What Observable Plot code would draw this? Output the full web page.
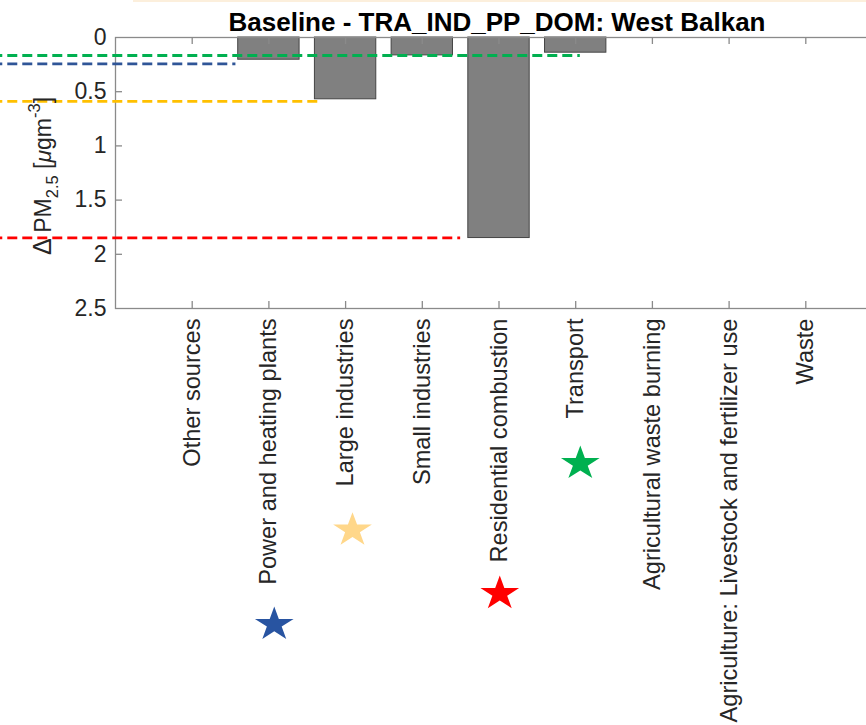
<!DOCTYPE html>
<html>
<head>
<meta charset="utf-8">
<script src="https://cdn.jsdelivr.net/npm/d3@7"></script>
<script src="https://cdn.jsdelivr.net/npm/@observablehq/plot@0.6"></script>
<style>
  body { margin: 0; background: #fff; overflow: hidden; }
  #wrap { position: relative; width: 866px; height: 725px; overflow: hidden; }
  #strip { position: absolute; left: 133px; top: 0; width: 733px; height: 2px; background: #fcefdc; }
</style>
</head>
<body>
<div id="wrap"><div id="strip"></div></div>
<script>
// ---- data ----
const title = "Baseline - TRA_IND_PP_DOM: West Balkan";
const categories = [
  "Other sources",
  "Power and heating plants",
  "Large industries",
  "Small industries",
  "Residential combustion",
  "Transport",
  "Agricultural waste burning",
  "Agriculture: Livestock and fertilizer use",
  "Waste"
];
const deltaPM = [0, 0.205, 0.57, 0.165, 1.85, 0.14, 0, 0, 0];
const yTicks = [0, 0.5, 1, 1.5, 2, 2.5];

// dashed reference levels (drawn from the left edge to the marked bar)
const refSource = ["Transport", "Power and heating plants", "Large industries", "Residential combustion"];
const refLevel = [0.166, 0.243, 0.59, 1.848];
const refEnd = [6.06, 1.57, 2.65, 4.5];

// star markers below the category labels (x in category units, y in axis units)
const starSource = ["Power and heating plants", "Large industries", "Residential combustion", "Transport"];
const starX = [2.07, 3.09, 5.01, 6.06];
const starDepth = [5.415, 4.545, 5.13, 3.93];

// ---- styles ----
const lineColor = {
  "Transport": "#00b050",
  "Power and heating plants": "#2f5597",
  "Large industries": "#ffc000",
  "Residential combustion": "#ff0000"
};
const starColor = {
  "Transport": "#00b050",
  "Power and heating plants": "#2854a1",
  "Large industries": "#ffd78a",
  "Residential combustion": "#ff0000"
};
const axisGray = "#8a8a8a";
const textDark = "#262626";

// ---- tables built from the arrays ----
const positions = categories.map((c, i) => i + 1);
const bars = categories.map((c, i) => ({pos: i + 1, cat: c, value: deltaPM[i]}));
const refs = refSource.map((s, i) => ({source: s, level: refLevel[i], end: refEnd[i]}));
const stars = starSource.map((s, i) => ({source: s, x: starX[i], depth: starDepth[i]}));

// slightly widened 5-point star
const wideStar = {
  draw(ctx, size) {
    const R = Math.sqrt(size / Math.PI);
    const kx = 1.13, inner = 0.382;
    for (let i = 0; i < 10; i++) {
      const a = -Math.PI / 2 + i * Math.PI / 5;
      const r = i % 2 ? R * inner : R;
      const px = Math.cos(a) * r * kx, py = Math.sin(a) * r;
      if (i === 0) ctx.moveTo(px, py); else ctx.lineTo(px, py);
    }
    ctx.closePath();
  }
};

const plot = Plot.plot({
  width: 866,
  height: 725,
  marginLeft: 115,
  marginRight: -16,
  marginTop: 37,
  marginBottom: 417,
  style: {fontFamily: "'Liberation Sans', Arial, Helvetica, sans-serif", color: textDark, background: "white"},
  x: {domain: [0, 10]},
  y: {domain: [0, 2.5], range: [37, 308]},
  color: {type: "identity"},
  marks: [
    Plot.rect(bars, {x1: d => d.pos - 0.4, x2: d => d.pos + 0.4, y1: 0, y2: "value", fill: "#808080", stroke: "#454545", strokeWidth: 1}),
    Plot.frame({stroke: axisGray, strokeWidth: 1.3}),
    Plot.tickY(yTicks.slice(1, -1), {y: d => d, insetRight: 760, stroke: axisGray, strokeWidth: 1.3}),
    Plot.tickX(positions, {x: d => d, insetTop: 264, stroke: axisGray, strokeWidth: 1.3}),
    Plot.tickX(positions, {x: d => d, insetBottom: 264, stroke: axisGray, strokeWidth: 1.3}),
    Plot.axisY(yTicks, {anchor: "left", tickSize: 0, tickPadding: 9, tickFormat: d => String(d), fontSize: 23, fill: textDark, label: null}),
    Plot.axisX(positions, {anchor: "bottom", tickSize: 0, tickPadding: 10, tickRotate: -90, tickFormat: d => categories[d - 1], fontSize: 23.6, fill: textDark, label: null}),
    Plot.ruleY(refs, {y: "level", x1: -1.6, x2: "end", stroke: d => lineColor[d.source], strokeWidth: 2.8, strokeDasharray: "10,5"}),
    Plot.dot(stars, {x: "x", y: "depth", symbol: wideStar, r: 18, fill: d => starColor[d.source], stroke: "none"})
  ]
});

const svg = d3.select(plot);
svg.append("text")
  .attr("x", 497).attr("y", 31)
  .attr("text-anchor", "middle")
  .attr("font-weight", "bold")
  .attr("font-size", 26)
  .attr("fill", "#000")
  .text(title);

const lab = svg.append("text")
  .attr("transform", "translate(51,176) rotate(-90)")
  .attr("text-anchor", "middle")
  .attr("font-size", 23)
  .attr("fill", textDark)
  .attr("xml:space", "preserve")
  .style("white-space", "pre");
lab.append("tspan").attr("font-size", 25).text("\u0394 ");
lab.append("tspan").text("PM");
lab.append("tspan").attr("font-size", 16.5).attr("dy", 7).text("2.5");
lab.append("tspan").attr("dy", -7).text(" [");
lab.append("tspan").attr("font-style", "italic").text("\u03BC");
lab.append("tspan").text("gm");
lab.append("tspan").attr("font-size", 16.5).attr("dy", -11).text("-3");
lab.append("tspan").attr("dy", 11).text("]");

document.getElementById("wrap").prepend(plot);
</script>
</body>
</html>
